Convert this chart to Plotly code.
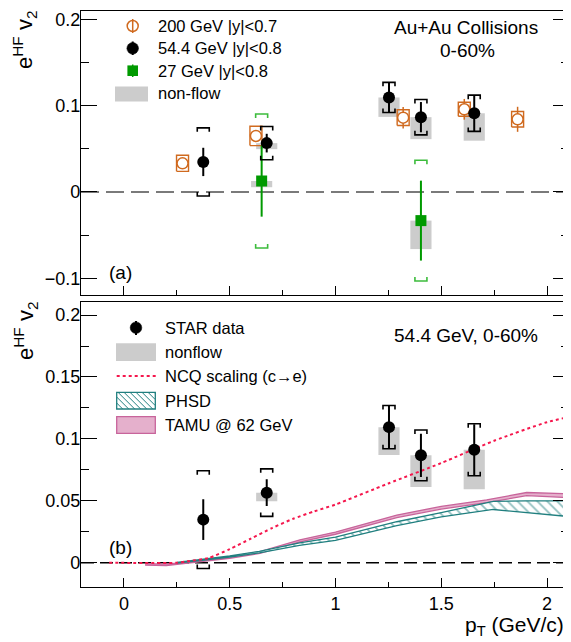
import plotly.graph_objects as go

# ------------------------------------------------------------------ data
# 54.4 GeV |y|<0.8 (STAR data)
PT_544 = [0.375, 0.675, 1.253, 1.404, 1.656]
V2_544 = [0.0348, 0.0566, 0.1095, 0.0867, 0.0912]
STAT_544 = [0.0164, 0.0108, 0.0175, 0.0175, 0.0207]
SYS_544 = [0.0395, 0.0192, 0.0175, 0.0205, 0.0210]
NONFLOW_544 = [0.0, 0.0070, 0.0225, 0.0255, 0.0318]

# 27 GeV |y|<0.8
PT_27 = [0.651, 1.404]
V2_27 = [0.0127, -0.0332]
STAT_27 = [0.0413, 0.0463]
SYS_27 = [0.0777, 0.0700]
NONFLOW_27 = [0.0072, 0.0330]

# 200 GeV |y|<0.7
PT_200 = [0.277, 0.624, 1.320, 1.609, 1.861]
V2_200 = [0.0332, 0.0649, 0.0861, 0.0958, 0.0842]
STAT_200 = [0.0060, 0.0070, 0.0125, 0.0120, 0.0145]
SYS_200 = [0.0093, 0.0112, 0.0091, 0.0081, 0.0090]

# NCQ scaling (c->e)
NCQ_PT = [-0.07, 0.25, 0.30, 0.40, 0.50, 0.60, 0.70, 0.80, 0.90, 1.00, 1.25, 1.50, 1.75, 2.00, 2.10]
NCQ_V2 = [0.0, 0.0, 0.0012, 0.0038, 0.0110, 0.0195, 0.0280, 0.0355, 0.0415, 0.0470, 0.0640, 0.0805, 0.0985, 0.1135, 0.1175]

# PHSD band
PHSD_PT = [0.25, 0.36, 0.50, 0.64, 0.83, 1.00, 1.29, 1.50, 1.746, 1.90, 2.11]
PHSD_HI = [0.0002, 0.0026, 0.0055, 0.0092, 0.0160, 0.0207, 0.0331, 0.0405, 0.0495, 0.0500, 0.0500]
PHSD_LO = [-0.0004, 0.0018, 0.0045, 0.0080, 0.0140, 0.0180, 0.0300, 0.0370, 0.0430, 0.0405, 0.0372]

# TAMU @ 62 GeV band
TAMU_PT = [0.10, 0.20, 0.30, 0.36, 0.50, 0.643, 0.832, 1.00, 1.29, 1.50, 1.715, 1.904, 2.11]
TAMU_HI = [-0.0008, -0.0012, 0.0004, 0.0018, 0.0048, 0.0090, 0.0185, 0.0248, 0.0385, 0.0455, 0.0508, 0.0567, 0.0556]
TAMU_LO = [-0.0020, -0.0024, -0.0008, 0.0006, 0.0036, 0.0076, 0.0168, 0.0230, 0.0365, 0.0433, 0.0485, 0.0542, 0.0524]

# ------------------------------------------------------------------ layout constants
# the page body has an 8px margin, so the figure is 8px smaller than the window
BODY = 8
W, H = 571 - BODY, 642 - BODY
ML, MR, MT, MB = 81 - BODY, 2, 11 - BODY, 55
FONT = "Liberation Sans, Arial, sans-serif"
X_RANGE = [-0.203, 2.104]
Y1_RANGE = [-0.1194, 0.2097]
Y2_RANGE = [-0.0196, 0.2103]
TOP_DOMAIN = [0.50694, 1.0]
BOT_DOMAIN = [0.0, 0.49427]

ORANGE = "#d06a1f"
GREEN = "#009a00"
GREEN_LIGHT = "#3cbc3c"
GREY = "#cccccc"
TEAL = "#207f7f"
PINK_LINE = "#c8649b"
PINK_FILL = "#e5b0cc"
RED = "#f5174d"

PW = W - ML - MR
PH = H - MT - MB


def px_x(px):
    """window pixel -> paper fraction"""
    return (px - BODY - ML) / PW


def px_y(py):
    return 1 - (py - BODY - MT) / PH


def units_per_px_y(rng, dom):
    return (rng[1] - rng[0]) / ((dom[1] - dom[0]) * PH)


UX = (X_RANGE[1] - X_RANGE[0]) / PW
UY1 = units_per_px_y(Y1_RANGE, TOP_DOMAIN)
UY2 = units_per_px_y(Y2_RANGE, BOT_DOMAIN)


def bracket_path(xs, ys, errs, half_w, tick):
    bx, by = [], []
    for x, y, e in zip(xs, ys, errs):
        hi, lo = y + e, y - e
        bx += [x - half_w, x - half_w, x + half_w, x + half_w, None]
        by += [hi - tick, hi, hi, hi - tick, None]
        bx += [x - half_w, x - half_w, x + half_w, x + half_w, None]
        by += [lo + tick, lo, lo, lo + tick, None]
    return bx, by


def rect_path(xs, ys, errs, half_w):
    bx, by = [], []
    for x, y, e in zip(xs, ys, errs):
        bx += [x - half_w, x + half_w, x + half_w, x - half_w, x - half_w, None]
        by += [y - e, y - e, y + e, y + e, y - e, None]
    return bx, by


fig = go.Figure()

# ------------------------------------------------------------------ top panel
BR_W = 6 * UX
ox, oy = rect_path(PT_200, V2_200, SYS_200, 6 * UX)
fig.add_trace(go.Scatter(x=ox, y=oy, mode="lines", line=dict(color=ORANGE, width=1.4),
                         xaxis="x", yaxis="y", showlegend=False, hoverinfo="skip"))
fig.add_trace(go.Scatter(x=PT_200, y=V2_200, mode="markers",
                         marker=dict(symbol="circle", size=11, color="white",
                                     line=dict(color=ORANGE, width=1.5)),
                         error_y=dict(type="data", array=STAT_200, color=ORANGE, thickness=1.5, width=0),
                         xaxis="x", yaxis="y", showlegend=False))

gx, gy = bracket_path(PT_27, V2_27, SYS_27, BR_W, 4 * UY1)
fig.add_trace(go.Scatter(x=gx, y=gy, mode="lines", line=dict(color=GREEN_LIGHT, width=1.6),
                         xaxis="x", yaxis="y", showlegend=False, hoverinfo="skip"))
fig.add_trace(go.Scatter(x=PT_27, y=V2_27, mode="markers",
                         marker=dict(symbol="square", size=11, color=GREEN),
                         error_y=dict(type="data", array=STAT_27, color=GREEN, thickness=2, width=0),
                         xaxis="x", yaxis="y", showlegend=False))

kx, ky = bracket_path(PT_544, V2_544, SYS_544, BR_W, 4 * UY1)
fig.add_trace(go.Scatter(x=kx, y=ky, mode="lines", line=dict(color="black", width=1.6),
                         xaxis="x", yaxis="y", showlegend=False, hoverinfo="skip"))
fig.add_trace(go.Scatter(x=PT_544, y=V2_544, mode="markers",
                         marker=dict(symbol="circle", size=12, color="black"),
                         error_y=dict(type="data", array=STAT_544, color="black", thickness=2, width=0),
                         xaxis="x", yaxis="y", showlegend=False))

# ------------------------------------------------------------------ bottom panel
fig.add_trace(go.Scatter(x=TAMU_PT + TAMU_PT[::-1], y=TAMU_HI + TAMU_LO[::-1],
                         mode="lines", fill="toself", fillcolor=PINK_FILL,
                         line=dict(color=PINK_LINE, width=1.3),
                         xaxis="x2", yaxis="y2", showlegend=False, hoverinfo="skip"))
fig.add_trace(go.Scatter(x=PHSD_PT + PHSD_PT[::-1], y=PHSD_HI + PHSD_LO[::-1],
                         mode="lines", fill="toself", fillcolor="white",
                         fillpattern=dict(shape="\\", fgcolor=TEAL, bgcolor="white",
                                          size=7, solidity=0.25),
                         line=dict(color=TEAL, width=1.3),
                         xaxis="x2", yaxis="y2", showlegend=False, hoverinfo="skip"))
fig.add_trace(go.Scatter(x=NCQ_PT, y=NCQ_V2, mode="lines", line_shape="spline",
                         line=dict(color=RED, width=2, dash="dot", smoothing=0.6),
                         xaxis="x2", yaxis="y2", showlegend=False, hoverinfo="skip"))
kx2, ky2 = bracket_path(PT_544, V2_544, SYS_544, BR_W, 4 * UY2)
fig.add_trace(go.Scatter(x=kx2, y=ky2, mode="lines", line=dict(color="black", width=1.6),
                         xaxis="x2", yaxis="y2", showlegend=False, hoverinfo="skip"))
fig.add_trace(go.Scatter(x=PT_544, y=V2_544, mode="markers",
                         marker=dict(symbol="circle", size=12, color="black"),
                         error_y=dict(type="data", array=STAT_544, color="black", thickness=2, width=0),
                         xaxis="x2", yaxis="y2", showlegend=False))

# ------------------------------------------------------------------ shapes
shapes = []
NF_HW = 0.05
for xr, yr in (("x", "y"), ("x2", "y2")):
    for x, y, nf in zip(PT_544, V2_544, NONFLOW_544):
        if nf > 0:
            shapes.append(dict(type="rect", xref=xr, yref=yr, x0=x - NF_HW, x1=x + NF_HW,
                               y0=y - nf, y1=y, fillcolor=GREY, line=dict(width=0), layer="below"))
for x, y, nf in zip(PT_27, V2_27, NONFLOW_27):
    shapes.append(dict(type="rect", xref="x", yref="y", x0=x - NF_HW, x1=x + NF_HW,
                       y0=y - nf, y1=y, fillcolor=GREY, line=dict(width=0), layer="below"))

shapes.append(dict(type="line", xref="x domain", yref="y", x0=0, x1=1, y0=0, y1=0,
                   line=dict(color="#7a7a7a", width=2, dash="18px,7px"), layer="below"))
shapes.append(dict(type="line", xref="x2 domain", yref="y2", x0=0, x1=1, y0=0, y1=0,
                   line=dict(color="black", width=1.3, dash="13px,6px"), layer="below"))


def pshape(kind, x0, y0, x1, y1, **kw):
    d = dict(type=kind, xref="paper", yref="paper",
             x0=px_x(x0), x1=px_x(x1), y0=px_y(y0), y1=px_y(y1))
    d.update(kw)
    return d


# top legend symbols
shapes.append(pshape("circle", 127.2, 20.5, 138.2, 31.5, fillcolor="white", line=dict(color=ORANGE, width=1.5)))
shapes.append(pshape("line", 132.7, 19.0, 132.7, 33.0, line=dict(color=ORANGE, width=1.5)))
shapes.append(pshape("line", 132.7, 41.5, 132.7, 55.0, line=dict(color="black", width=2)))
shapes.append(pshape("circle", 126.9, 42.5, 138.5, 54.1, fillcolor="black", line=dict(color="black", width=0.5)))
shapes.append(pshape("line", 132.7, 64.5, 132.7, 77.0, line=dict(color=GREEN, width=1.5)))
shapes.append(pshape("rect", 127.4, 65.4, 138.0, 76.0, fillcolor=GREEN, line=dict(width=0)))
shapes.append(pshape("rect", 115, 86.5, 148, 101.5, fillcolor=GREY, line=dict(width=0)))

# bottom legend symbols
shapes.append(pshape("line", 136, 321.0, 136, 335.0, line=dict(color="black", width=2)))
shapes.append(pshape("circle", 130.2, 321.9, 141.8, 333.5, fillcolor="black", line=dict(color="black", width=0.5)))
shapes.append(pshape("rect", 116, 343.3, 156, 361.0, fillcolor=GREY, line=dict(width=0)))
shapes.append(pshape("line", 116.7, 376, 156, 376, line=dict(color=RED, width=2, dash="dot")))
hx0, hx1, hy0, hy1 = 116.7, 155.3, 392.3, 409.0
hw, hh = hx1 - hx0, hy1 - hy0
s = -hh
while s < hw:
    t0, t1 = max(0.0, -s), min(hh, hw - s)
    if t1 > t0:
        shapes.append(pshape("line", hx0 + s + t0, hy0 + t0, hx0 + s + t1, hy0 + t1,
                             line=dict(color=TEAL, width=1)))
    s += 6
shapes.append(pshape("rect", hx0, hy0, hx1, hy1, line=dict(color=TEAL, width=1.3)))
shapes.append(pshape("rect", 116.7, 416.7, 155.3, 433.3, fillcolor=PINK_FILL,
                     line=dict(color=PINK_LINE, width=1.3)))

# ------------------------------------------------------------------ annotations
ann = []


def ptext(text, x, y, size, xanchor="left", yanchor="middle", angle=0):
    ann.append(dict(text=text, xref="paper", yref="paper", x=px_x(x), y=px_y(y),
                    xanchor=xanchor, yanchor=yanchor, showarrow=False, textangle=angle,
                    font=dict(family=FONT, size=size, color="black")))


LEG = 16.5
ptext("200 GeV |y|<0.7", 156, 26, LEG)
ptext("54.4 GeV |y|<0.8", 156, 48.3, LEG)
ptext("27 GeV |y|<0.8", 156, 70.7, LEG)
ptext("non-flow", 156, 93.3, LEG)
ptext("Au+Au Collisions", 465.7, 27, 19, xanchor="center")
ptext("0-60%", 467, 50, 19, xanchor="center")
ptext("(a)", 120.5, 272.5, 19, xanchor="center")

ptext("STAR data", 163.3, 327.7, LEG)
ptext("nonflow", 163.3, 352.3, LEG)
ptext("NCQ scaling (c\u2192e)", 163.3, 376, LEG)
ptext("PHSD", 163.3, 400.7, LEG)
ptext("TAMU @ 62 GeV", 163.3, 425, LEG)
ptext("54.4 GeV, 0-60%", 466, 335, 19, xanchor="center")
ptext("(b)", 120.5, 547, 19, xanchor="center")

ptext("e<sup>HF</sup> v<sub>2</sub>", 25, 9, 22, xanchor="center", yanchor="top", angle=-90)
ptext("e<sup>HF</sup> v<sub>2</sub>", 25, 300, 22, xanchor="center", yanchor="top", angle=-90)
ptext("p<sub>T</sub> (GeV/c)", 566, 626, 21, xanchor="right")

# ------------------------------------------------------------------ axes
common_x = dict(range=X_RANGE, showgrid=False, zeroline=False, showline=True,
                linecolor="black", linewidth=1.3, mirror=True,
                ticks="inside", ticklen=9, tickwidth=1, tickcolor="black",
                dtick=0.5, tick0=0,
                minor=dict(dtick=0.25, ticklen=5, ticks="inside", tickcolor="black", tickwidth=1),
                tickfont=dict(family=FONT, size=18, color="black"))
common_y = dict(showgrid=False, zeroline=False, showline=True,
                linecolor="black", linewidth=1.3, mirror="ticks",
                ticks="inside", ticklen=16, tickwidth=1, tickcolor="black",
                tickfont=dict(family=FONT, size=18, color="black"), ticklabelstandoff=-4)

fig.update_layout(
    width=W, height=H,
    margin=dict(l=ML, r=MR, t=MT, b=MB),
    paper_bgcolor="white", plot_bgcolor="white",
    showlegend=False,
    xaxis=dict(**common_x, domain=[0, 1], anchor="y", showticklabels=False),
    yaxis=dict(**common_y, domain=TOP_DOMAIN, anchor="x", range=Y1_RANGE, dtick=0.1, tick0=0,
               minor=dict(dtick=0.05, ticklen=8, ticks="inside", tickcolor="black", tickwidth=1)),
    xaxis2=dict(**common_x, domain=[0, 1], anchor="y2", matches="x", ticklabelstandoff=0),
    yaxis2=dict(**common_y, domain=BOT_DOMAIN, anchor="x2", range=Y2_RANGE, dtick=0.05, tick0=0,
                minor=dict(dtick=0.025, ticklen=8, ticks="inside", tickcolor="black", tickwidth=1)),
    shapes=shapes,
    annotations=ann,
)

fig.write_html("out.html")
